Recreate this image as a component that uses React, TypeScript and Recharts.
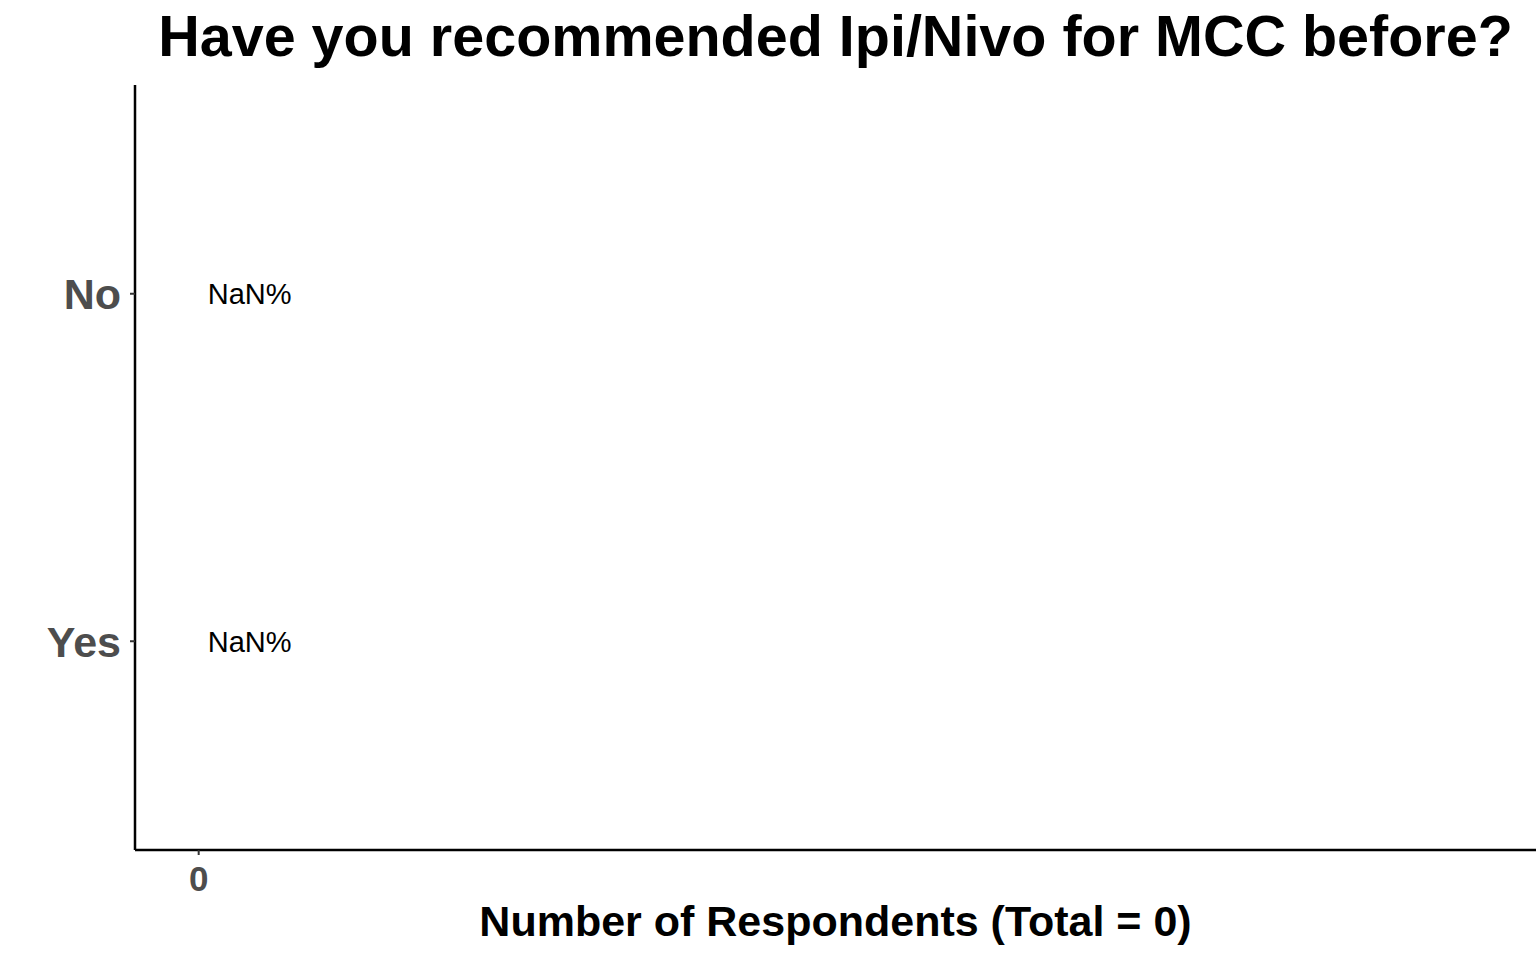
import { BarChart, Bar, XAxis, YAxis, LabelList } from "recharts";

const categories = ["No", "Yes"];
const counts = [0, 0];
const pctLabels = ["NaN%", "NaN%"];
const xTicks = [0];
const total = 0;

const data = categories.map((c, i) => ({
  answer: c,
  count: counts[i],
  pct: pctLabels[i],
}));

const FONT = "'Liberation Sans', Arial, Helvetica, sans-serif";

export default function App() {
  return (
    <div
      style={{
        position: "fixed",
        top: 0,
        left: 0,
        width: 1536,
        height: 960,
        background: "#ffffff",
        fontFamily: FONT,
      }}
    >
      {/* title, centred over the panel like ggplot */}
      <div
        style={{
          position: "absolute",
          top: 8,
          left: 135,
          width: 1401,
          textAlign: "center",
          fontSize: 57.5,
          lineHeight: "57px",
          fontWeight: "bold",
          color: "#000",
          whiteSpace: "nowrap",
        }}
      >
        Have you recommended Ipi/Nivo for MCC before?
      </div>

      <BarChart
        width={1536}
        height={960}
        data={data}
        layout="vertical"
        margin={{ top: 85, right: 0, bottom: 0, left: 0 }}
      >
        <XAxis
          type="number"
          dataKey="count"
          domain={[-0.05, 1.05]}
          ticks={xTicks}
          height={110}
          tickSize={5}
          tickMargin={11}
          stroke="#000"
          strokeWidth={2.5}
          tick={{ fontSize: 35, fontWeight: "bold", fill: "#4d4d4d", fontFamily: FONT }}
          tickLine={{ stroke: "#333333", strokeWidth: 2 }}
          label={{
            value: `Number of Respondents (Total = ${total})`,
            position: "insideBottom",
            offset: 24,
            style: { fontSize: 43, fontWeight: "bold", fill: "#000", fontFamily: FONT },
          }}
        />
        <YAxis
          type="category"
          dataKey="answer"
          width={135}
          padding={{ top: 35, bottom: 35 }}
          tickSize={5}
          tickMargin={9}
          stroke="#000"
          strokeWidth={2.5}
          tick={{ fontSize: 43, fontWeight: "bold", fill: "#4d4d4d", fontFamily: FONT }}
          tickLine={{ stroke: "#333333", strokeWidth: 2 }}
        />
        <Bar
          dataKey="count"
          fill="transparent"
          minPointSize={0.01}
          isAnimationActive={false}
        >
          <LabelList
            dataKey="pct"
            position="right"
            offset={9}
            style={{ fontSize: 29, fill: "#000", fontFamily: FONT }}
          />
        </Bar>
      </BarChart>
    </div>
  );
}
